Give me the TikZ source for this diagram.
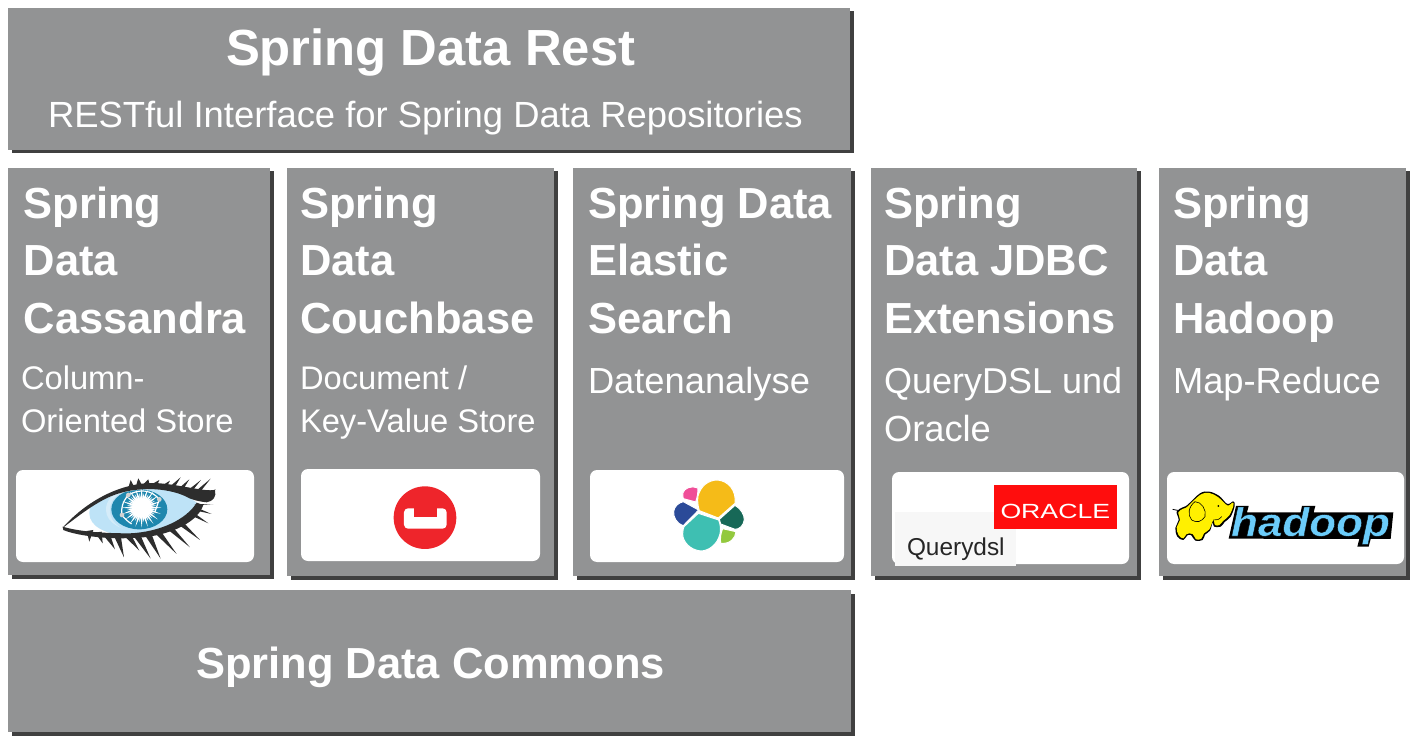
\documentclass[tikz,border=0pt]{standalone}
\usepackage{fontspec}
\setmainfont{Liberation Sans}
\newfontfamily\hadoopf[UprightFont=* Bold Italic,FakeBold=0.8]{Liberation Sans}
\usetikzlibrary{shadows}
\definecolor{panelgrey}{HTML}{929394}
\definecolor{shadowgrey}{HTML}{404040}
\definecolor{lash}{RGB}{45,45,45}
\definecolor{irisblue}{RGB}{190,227,247}
\definecolor{irislight}{RGB}{213,236,249}
\definecolor{pupil}{RGB}{30,135,174}
\newcommand{\tsize}{\fontsize{43.5}{50}\bfseries\selectfont}
\begin{document}
\begin{tikzpicture}[x=1pt,y=-1pt,
  panel/.style={fill=panelgrey,inner sep=0,outer sep=0,anchor=north west,
    drop shadow={shadow xshift=3.5pt,shadow yshift=-3.5pt,fill=shadowgrey,opacity=1}},
  logobox/.style={fill=white,rounded corners=7pt,inner sep=0,outer sep=0,anchor=north west},
  txt/.style={text=white,inner sep=0,outer sep=0,anchor=base west},
  ttl/.style={txt,font=\tsize},
  subB/.style={txt,font=\fontsize{32.7}{40}\selectfont},
  subC/.style={txt,font=\fontsize{36.3}{44}\selectfont},
  zoomc/.style={x=0.3333pt,y=-0.3333pt},
  elpiece/.style={draw=white,line width=1pt,line join=round}]
\useasboundingbox (0,0) rectangle (1416,751);
\fill[white] (0,0) rectangle (1416,751);
% panels
\node[panel,minimum width=842pt,minimum height=142pt] (rest) at (8,8) {};
\node[panel,minimum width=262pt,minimum height=407pt] (cass) at (8,168) {};
\node[panel,minimum width=267pt,minimum height=408pt] (couch) at (287,168) {};
\node[panel,minimum width=278pt,minimum height=408pt] (elastic) at (573,168) {};
\node[panel,minimum width=266pt,minimum height=408pt] (jdbc) at (871,168) {};
\node[panel,minimum width=247pt,minimum height=408pt] (hadoop) at (1159,168) {};
\node[panel,minimum width=843pt,minimum height=142pt] (commons) at (8,590) {};
% logo boxes
\node[logobox,minimum width=238pt,minimum height=92pt] (lcass) at (16,470) {};
\node[logobox,minimum width=239pt,minimum height=92pt] (lcouch) at (301,469) {};
\node[logobox,minimum width=254pt,minimum height=92pt] (lelastic) at (590,470) {};
\node[logobox,minimum width=237pt,minimum height=92pt] (ljdbc) at (892,472) {};
\node[logobox,minimum width=237pt,minimum height=92pt] (lhadoop) at (1167,472) {};
% top
\node[txt,font=\fontsize{50.8}{60}\bfseries\selectfont] (t1) at (226,66) {Spring Data Rest};
\node[txt,font=\fontsize{36.4}{44}\selectfont] (t2) at (48,128) {RESTful Interface for Spring Data Repositories};
\node[txt,font=\tsize] (t3) at (196,678) {Spring Data Commons};
% column titles
\node[ttl] (a1) at (23.7,219) {Spring};
\node[ttl] (a2) at (23.7,276) {Data};
\node[ttl] (a3) at (23.7,333) {Cassandra};
\node[subB] (a4) at (21,389) {Column-};
\node[subB] (a5) at (21,432) {Oriented Store};
\node[ttl] (b1) at (300,219) {Spring};
\node[ttl] (b2) at (300,276) {Data};
\node[ttl] (b3) at (300,333) {Couchbase};
\node[subB] (b4) at (300,389) {Document /};
\node[subB] (b5) at (300,432) {Key-Value Store};
\node[ttl] (c1) at (588,219) {Spring Data};
\node[ttl] (c2) at (588,276) {Elastic};
\node[ttl] (c3) at (588,333) {Search};
\node[subC] (c4) at (588,393) {Datenanalyse};
\node[ttl] (d1) at (884,219) {Spring};
\node[ttl] (d2) at (884,276) {Data JDBC};
\node[ttl] (d3) at (884,333) {Extensions};
\node[txt,font=\fontsize{36}{44}\selectfont] (d4) at (884,393) {QueryDSL und};
\node[subC] (d5) at (884,441) {Oracle};
\node[ttl] (e1) at (1173,219) {Spring};
\node[ttl] (e2) at (1173,276) {Data};
\node[ttl] (e3) at (1173,333) {Hadoop};
\node[subC] (e4) at (1173,393) {Map-Reduce};
% Cassandra eye
\begin{scope}[shift={(0,460)},zoomc]
  \begin{scope}
    \clip (190,203) .. controls (270,120) and (380,80) .. (480,88) .. controls (530,92) and (570,110) .. (592,130) .. controls (560,190) and (470,225) .. (390,225) .. controls (310,225) and (240,215) .. (190,203);
    \fill[irisblue] (268,160) .. controls (268,110) and (340,80) .. (450,80) -- (600,110) -- (600,140) .. controls (560,190) and (470,228) .. (390,228) .. controls (320,225) and (268,200) .. (268,160);
    \fill[irislight] (318,150) .. controls (318,100) and (370,85) .. (420,85) -- (420,215) .. controls (370,215) and (318,190) .. (318,150);
    \fill[irisblue] (330,150) .. controls (330,100) and (390,85) .. (420,85) -- (500,85) -- (540,150) -- (420,220) .. controls (375,215) and (330,195) .. (330,150);
    \fill[pupil] (418,148) ellipse [x radius=84,y radius=60];
  \end{scope}
  % starburst
  \foreach \a in {0,18,...,342}{
    \fill[white] ([shift={(\a-9:24)}]425,143) -- ([shift={(\a:60)}]425,143) -- ([shift={(\a+9:24)}]425,143) -- cycle;
  }
  \foreach \a in {9,27,...,351}{
    \fill[white] ([shift={(\a-8:24)}]425,143) -- ([shift={(\a:45)}]425,143) -- ([shift={(\a+8:24)}]425,143) -- cycle;
  }
  \fill[white] (425,143) circle (27);
  % network lines
  \draw[white,line width=1.2pt] (385,105) .. controls (368,125) and (362,145) .. (366,165) .. controls (375,178) and (385,185) .. (395,192);
  \draw[white,line width=1.2pt] (385,105) .. controls (420,85) and (455,90) .. (478,118) -- (465,155);
  \fill[gray!35] (385,105) circle (7) (478,118) circle (7) (366,165) circle (7);
  % lids
  \fill[lash] (188,203) .. controls (270,112) and (380,62) .. (480,70) .. controls (550,76) and (610,95) .. (645,90) .. controls (650,110) and (640,124) .. (620,127) .. controls (595,124) and (575,120) .. (555,108) .. controls (500,84) and (410,76) .. (330,110) .. controls (280,132) and (230,172) .. (193,200) -- cycle;
  \fill[lash] (188,200) .. controls (240,216) and (320,220) .. (390,220) .. controls (480,216) and (560,178) .. (590,128) -- (610,135) .. controls (590,195) and (490,232) .. (400,234) .. controls (320,238) and (230,227) .. (190,210) -- cycle;
  \foreach \bx/\by/\tx/\ty in {395/80/392/60,418/74/415/55,440/72/445/58,462/74/478/60,490/80/510/62,510/87/542/52,535/94/568/58,558/102/603/60,580/107/632/56,600/107/648/88}{
    \fill[lash] (\bx-9,\by) -- (\tx,\ty) -- (\bx+9,\by+3) -- cycle;
  }
  \foreach \bx/\by/\tx/\ty in {270/213/268/245,295/218/308/250,320/226/345/268,352/228/372/292,385/230/418/272,412/230/452/296,445/226/482/296,475/220/530/282,510/206/570/262,540/190/600/240,570/160/625/190,590/150/635/162,592/135/640/135}{
    \fill[lash] (\bx-10,\by) -- (\tx,\ty) -- (\bx+10,\by-3) -- cycle;
  }
\end{scope}
% Couchbase
\begin{scope}[shift={(285,460)},zoomc]
  \fill[color={rgb,255:red,238;green,37;blue,43}] (420,173) circle (94);
  \fill[white,rounded corners=4pt] (357,145) rectangle (485,206);
  \fill[color={rgb,255:red,238;green,37;blue,43}] (387,135) rectangle (455,172);
\end{scope}
% Elastic
\begin{scope}[shift={(570,460)},zoomc]
  \filldraw[elpiece,fill={rgb,255:red,240;green,78;blue,152}] (339,98) .. controls (342,85) and (365,75) .. (384,84) .. controls (384,100) and (382,112) .. (377,126) -- (340,116) .. controls (338,110) and (338,104) .. (339,98) -- cycle;
  \filldraw[elpiece,fill={rgb,255:red,245;green,187;blue,24}] (384,108) .. controls (392,78) and (415,60) .. (442,60) .. controls (475,62) and (500,92) .. (495,130) -- (445,174) -- (388,152) .. controls (383,135) and (382,122) .. (384,108) -- cycle;
  \filldraw[elpiece,fill={rgb,255:red,43;green,74;blue,152}] (340,125) -- (386,150) -- (340,197) .. controls (318,190) and (310,170) .. (311,155) .. controls (312,140) and (325,128) .. (340,125) -- cycle;
  \filldraw[elpiece,fill={rgb,255:red,62;green,191;blue,178}] (385,160) -- (446,180) .. controls (452,195) and (453,210) .. (450,222) .. controls (442,255) and (415,273) .. (392,273) .. controls (360,270) and (338,245) .. (338,222) .. controls (338,212) and (340,205) .. (342,200) -- cycle;
  \filldraw[elpiece,fill={rgb,255:red,23;green,104;blue,87}] (495,136) .. controls (512,145) and (524,165) .. (523,180) .. controls (520,198) and (508,208) .. (495,208) -- (452,192) .. controls (449,187) and (448,183) .. (448,178) -- cycle;
  \filldraw[elpiece,fill={rgb,255:red,147;green,201;blue,62}] (458,206) -- (498,215) .. controls (497,235) and (480,253) .. (452,250) .. controls (450,235) and (452,220) .. (458,206) -- cycle;
\end{scope}
% Querydsl / Oracle
\node[fill=black!3,inner sep=0,outer sep=0,anchor=north west,minimum width=121pt,minimum height=54pt] (qbox) at (895,512) {};
\node[inner sep=0,outer sep=0,anchor=base west,text=black!85,font=\fontsize{24.4}{28}\selectfont] (qtxt) at (907,555) {Querydsl};
\node[fill={rgb,255:red,255;green,13;blue,13},inner sep=0,outer sep=0,anchor=north west,minimum width=123pt,minimum height=44pt] (obox) at (994,485) {};
\node[inner sep=0,outer sep=0,anchor=base west,text=white,xscale=1.3,font=\fontsize{20.5}{24}\selectfont] (otxt) at (1000.5,518.5) {ORACLE};
% Hadoop
\begin{scope}[shift={(1150,460)},zoomc]
  \fill[black] plot[smooth cycle,tension=0.6] coordinates {(112,135) (150,100) (178,95) (208,108) (232,132) (250,124) (254,138) (242,170) (224,186) (212,200) (192,200) (188,188) (180,212) (165,224) (158,240) (136,242) (124,226) (112,226) (100,240) (82,230) (76,204) (86,180) (80,155) (98,142)};
  \fill[color={rgb,255:red,255;green,240;blue,0}] plot[smooth cycle,tension=0.6] coordinates {(112,140) (150,105) (178,99) (205,112) (232,136) (248,128) (250,138) (238,166) (220,182) (208,195) (195,195) (190,180) (178,208) (162,220) (154,236) (138,238) (128,222) (110,222) (100,235) (86,226) (80,202) (90,180) (85,157) (100,146)};
  \draw[black,line width=0.6pt] (135,125) .. controls (115,140) and (112,165) .. (125,180) .. controls (140,190) and (155,185) .. (165,170) .. controls (170,150) and (155,125) .. (135,125);
  \fill[black] (205,138) circle (3);
  \draw[black,line width=0.6pt] (190,180) .. controls (200,182) and (208,178) .. (215,170);
  \draw[black,line width=0.8pt] (88,152) .. controls (80,150) and (74,150) .. (68,148);
  \fill[black] (236,236) -- (258,138) -- (296,138) -- (291,157) -- (452,157) -- (456,138) -- (496,138) -- (491,157) -- (730,157) -- (722,237) -- (662,237) -- (656,260) -- (622,260) -- (628,237) -- cycle;
\end{scope}
\node[inner sep=0,outer sep=0,anchor=base west,xscale=1.1,font=\fontsize{40}{46}\hadoopf\selectfont] (htxt) at (1231,536) {\special{pdf:bcolor [0.42 0.8 0.98] [0 0 0]}hadoop\special{pdf:ecolor}};
\end{tikzpicture}
\end{document}
